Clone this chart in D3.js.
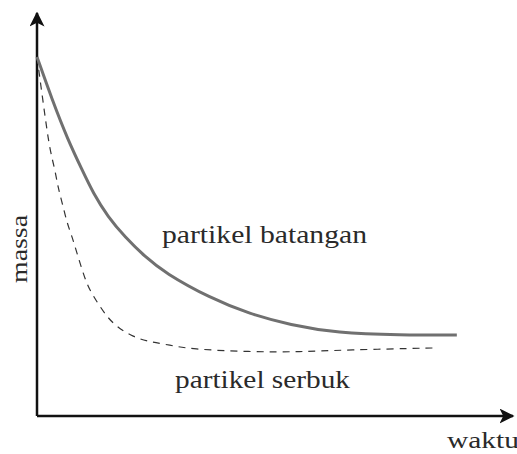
<html>
<head>
<script src='https://d3js.org/d3.v7.min.js'></script>
<style>
  body { margin: 0; background: #fff; }
  svg { display: block; }
</style>
</head>
<body>
<svg width=517 height=454></svg>
<script>
// waktu (time) and massa (mass), both on an arbitrary 0-10 scale
var timeBatang = [0, 0.32, 0.65, 0.95, 1.18, 1.49, 1.85, 2.27, 2.69, 3.63, 4.47, 5.32, 6.30, 7.63, 8.82];
var massBatang = [8.91, 7.84, 6.85, 6.10, 5.53, 4.94, 4.44, 3.95, 3.55, 2.93, 2.53, 2.26, 2.06, 2.01, 2.01];

var timeSerbuk = [0, 0.17, 0.27, 0.38, 0.44, 0.53, 0.63, 0.74, 0.84, 0.95, 1.07, 1.26, 1.47, 1.68, 2.02, 2.37, 2.79, 3.21, 4.47, 5.53, 6.47, 8.40];
var massSerbuk = [8.91, 7.42, 6.60, 6.10, 5.68, 5.29, 4.79, 4.44, 4.04, 3.62, 3.20, 2.83, 2.46, 2.21, 1.96, 1.84, 1.76, 1.66, 1.59, 1.59, 1.64, 1.69];

var labels = { batang: "partikel batangan", serbuk: "partikel serbuk", x: "waktu", y: "massa" };

var font = "'Liberation Serif', 'DejaVu Serif', 'Times New Roman', serif";

var svg = d3.select("svg");

var x = d3.scaleLinear().domain([0, 10]).range([37, 513]);
var y = d3.scaleLinear().domain([0, 10]).range([416, 13]);

//arrow heads
svg.append("defs").append("marker")
  .attr("id", "arrow")
  .attr("viewBox", "0 0 10 10")
  .attr("refX", 9).attr("refY", 5)
  .attr("markerWidth", 6).attr("markerHeight", 6)
  .attr("markerUnits", "strokeWidth")
  .attr("orient", "auto")
  .append("path")
  .attr("d", "M0,0 L10,5 L0,10 L2.5,5 Z")
  .attr("fill", "#111");

//axes
svg.append("line")
  .attr("x1", x(0)).attr("y1", y(0))
  .attr("x2", x(10)).attr("y2", y(0))
  .attr("stroke", "#111").attr("stroke-width", 2.5)
  .attr("marker-end", "url(#arrow)");

svg.append("line")
  .attr("x1", x(0)).attr("y1", y(0))
  .attr("x2", x(0)).attr("y2", y(10))
  .attr("stroke", "#111").attr("stroke-width", 2.5)
  .attr("marker-end", "url(#arrow)");

var line = d3.line()
  .x(function(d) { return x(d[0]); })
  .y(function(d) { return y(d[1]); })
  .curve(d3.curveBasis);

//partikel serbuk (dashed)
svg.append("path")
  .datum(d3.zip(timeSerbuk, massSerbuk))
  .attr("fill", "none")
  .attr("stroke", "#333")
  .attr("stroke-width", 1.2)
  .attr("stroke-dasharray", "7,6")
  .attr("d", line);

//partikel batangan (solid)
svg.append("path")
  .datum(d3.zip(timeBatang, massBatang))
  .attr("fill", "none")
  .attr("stroke", "#707070")
  .attr("stroke-width", 3)
  .attr("d", line);

//labels
function label(txt, px, py, size, len) {
  var t = svg.append("text")
    .attr("x", px).attr("y", py)
    .attr("font-family", font)
    .attr("font-size", size)
    .attr("fill", "#2a2a2a")
    .text(txt);
  if (len) t.attr("textLength", len).attr("lengthAdjust", "spacingAndGlyphs");
  return t;
}

label(labels.batang, 162, 243, 26, 205);
label(labels.serbuk, 175, 388, 26, 175);
label(labels.x, 447, 448, 24, 72);

svg.append("text")
  .attr("transform", "translate(27,249) rotate(-90)")
  .attr("text-anchor", "middle")
  .attr("font-family", font)
  .attr("font-size", 24)
  .attr("fill", "#2a2a2a")
  .attr("textLength", 68)
  .attr("lengthAdjust", "spacingAndGlyphs")
  .text(labels.y);
</script>
</body>
</html>
